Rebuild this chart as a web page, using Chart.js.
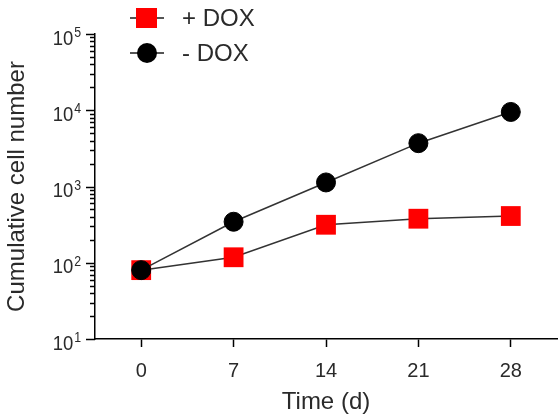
<!DOCTYPE html>
<html>
<head>
<meta charset="utf-8">
<script src="https://cdn.jsdelivr.net/npm/chart.js@4.4.0/dist/chart.umd.min.js"></script>
<style>
  html, body { margin: 0; padding: 0; background: #fff; }
  canvas { display: block; }
</style>
</head>
<body>
<canvas id="chart" width="558" height="419"></canvas>
<script>
const days = [0, 7, 14, 21, 28];
const withDox = [80, 118, 315, 378, 410];
const withoutDox = [80, 345, 1130, 3700, 9500];
const xTicks = [0, 7, 14, 21, 28];
const yMajorTicks = [10, 100, 1000, 10000, 100000];
const seriesLabels = ['+ DOX', '- DOX'];

const FONT = "'Liberation Sans', Arial, sans-serif";
const TEXT = '#2a2a2a';

function toPoints(values) {
  return days.map((d, i) => ({ x: d, y: values[i] }));
}

// minor ticks 2..9 in each decade
function logTickValues() {
  const out = [];
  yMajorTicks.forEach((major, i) => {
    out.push(major);
    if (i < yMajorTicks.length - 1) {
      for (let m = 2; m <= 9; m++) out.push(major * m);
    }
  });
  return out;
}

// log axis: tick marks (long at decades) and 10^n labels with a real superscript
const yAxisDecor = {
  id: 'yAxisDecor',
  afterDraw(chart) {
    const scale = chart.scales.y;
    const ctx = chart.ctx;
    ctx.save();
    ctx.strokeStyle = '#000';
    ctx.lineWidth = 1.5;
    logTickValues().forEach((v) => {
      const y = Math.round(scale.getPixelForValue(v)) + 0.5;
      const len = yMajorTicks.includes(v) ? 9 : 5;
      ctx.beginPath();
      ctx.moveTo(scale.right - len, y);
      ctx.lineTo(scale.right, y);
      ctx.stroke();
    });

    const sx = 0.88;
    ctx.fillStyle = TEXT;
    ctx.textBaseline = 'alphabetic';
    ctx.textAlign = 'right';
    yMajorTicks.forEach((v) => {
      const py = scale.getPixelForValue(v);
      const exp = String(Math.round(Math.log10(v)));
      const right = scale.right - 14;
      ctx.save();
      ctx.scale(sx, 1);
      ctx.font = '14px ' + FONT;
      const expW = ctx.measureText(exp).width;
      ctx.fillText(exp, right / sx, py + 3);
      ctx.font = '21px ' + FONT;
      ctx.fillText('10', right / sx - expW - 1, py + 10.5);
      ctx.restore();
    });
    ctx.restore();
  },
};

const legendBox = {
  id: 'legendBox',
  afterDraw(chart) {
    const ctx = chart.ctx;
    const rows = [
      { label: seriesLabels[0], y: 18, style: 'rect', color: '#ff0000' },
      { label: seriesLabels[1], y: 53, style: 'circle', color: '#000000' },
    ];
    ctx.save();
    rows.forEach((row) => {
      ctx.strokeStyle = '#555';
      ctx.lineWidth = 2;
      ctx.beginPath();
      ctx.moveTo(130, row.y);
      ctx.lineTo(164, row.y);
      ctx.stroke();
      ctx.fillStyle = row.color;
      if (row.style === 'rect') {
        ctx.fillRect(136, row.y - 10, 21, 20);
      } else {
        ctx.beginPath();
        ctx.arc(147, row.y, 10, 0, Math.PI * 2);
        ctx.fill();
      }
      ctx.fillStyle = TEXT;
      ctx.font = '24px ' + FONT;
      ctx.textBaseline = 'middle';
      ctx.textAlign = 'left';
      ctx.fillText(row.label, 182, row.y + 1);
    });
    ctx.restore();
  },
};

new Chart(document.getElementById('chart'), {
  type: 'line',
  data: {
    datasets: [
      {
        label: seriesLabels[0],
        data: toPoints(withDox),
        order: 2,
        borderColor: '#333',
        borderWidth: 1.5,
        pointStyle: 'rect',
        pointRadius: 14,
        pointBackgroundColor: '#ff0000',
        pointBorderColor: '#ff0000',
        pointBorderWidth: 0,
      },
      {
        label: seriesLabels[1],
        data: toPoints(withoutDox),
        order: 1,
        borderColor: '#333',
        borderWidth: 1.5,
        pointStyle: 'circle',
        pointRadius: 9.5,
        pointBackgroundColor: '#000',
        pointBorderColor: '#000',
        pointBorderWidth: 1,
      },
    ],
  },
  options: {
    responsive: false,
    animation: false,
    layout: { autoPadding: false, padding: { top: 34, right: 1, left: 0, bottom: 0 } },
    plugins: { legend: { display: false }, tooltip: { enabled: false } },
    scales: {
      x: {
        type: 'linear',
        min: -3.5,
        max: 31.5,
        afterBuildTicks: (scale) => { scale.ticks = xTicks.map((v) => ({ value: v })); },
        afterFit: (scale) => {
          scale.height = 80;
          scale.paddingLeft = 0;
          scale.paddingRight = 0;
        },
        grid: { drawOnChartArea: false, drawTicks: true, tickLength: 8, tickColor: '#000', tickWidth: 1.5 },
        border: { display: true, color: '#000', width: 1.5 },
        ticks: { color: TEXT, font: { family: FONT, size: 20 }, padding: 12 },
        title: { display: true, text: 'Time (d)', color: TEXT, font: { family: FONT, size: 24 }, padding: { top: 0, bottom: 2 } },
      },
      y: {
        type: 'logarithmic',
        min: 10,
        max: 100000,
        afterBuildTicks: (scale) => { scale.ticks = logTickValues().map((v) => ({ value: v })); },
        afterFit: (scale) => { scale.width = 95; },
        grid: { drawOnChartArea: false, drawTicks: false },
        border: { display: true, color: '#000', width: 1.5 },
        ticks: { display: false },
        title: { display: true, text: 'Cumulative cell number', color: TEXT, font: { family: FONT, size: 24 }, padding: { top: 3, bottom: 0 } },
      },
    },
  },
  plugins: [yAxisDecor, legendBox],
});
</script>
</body>
</html>
